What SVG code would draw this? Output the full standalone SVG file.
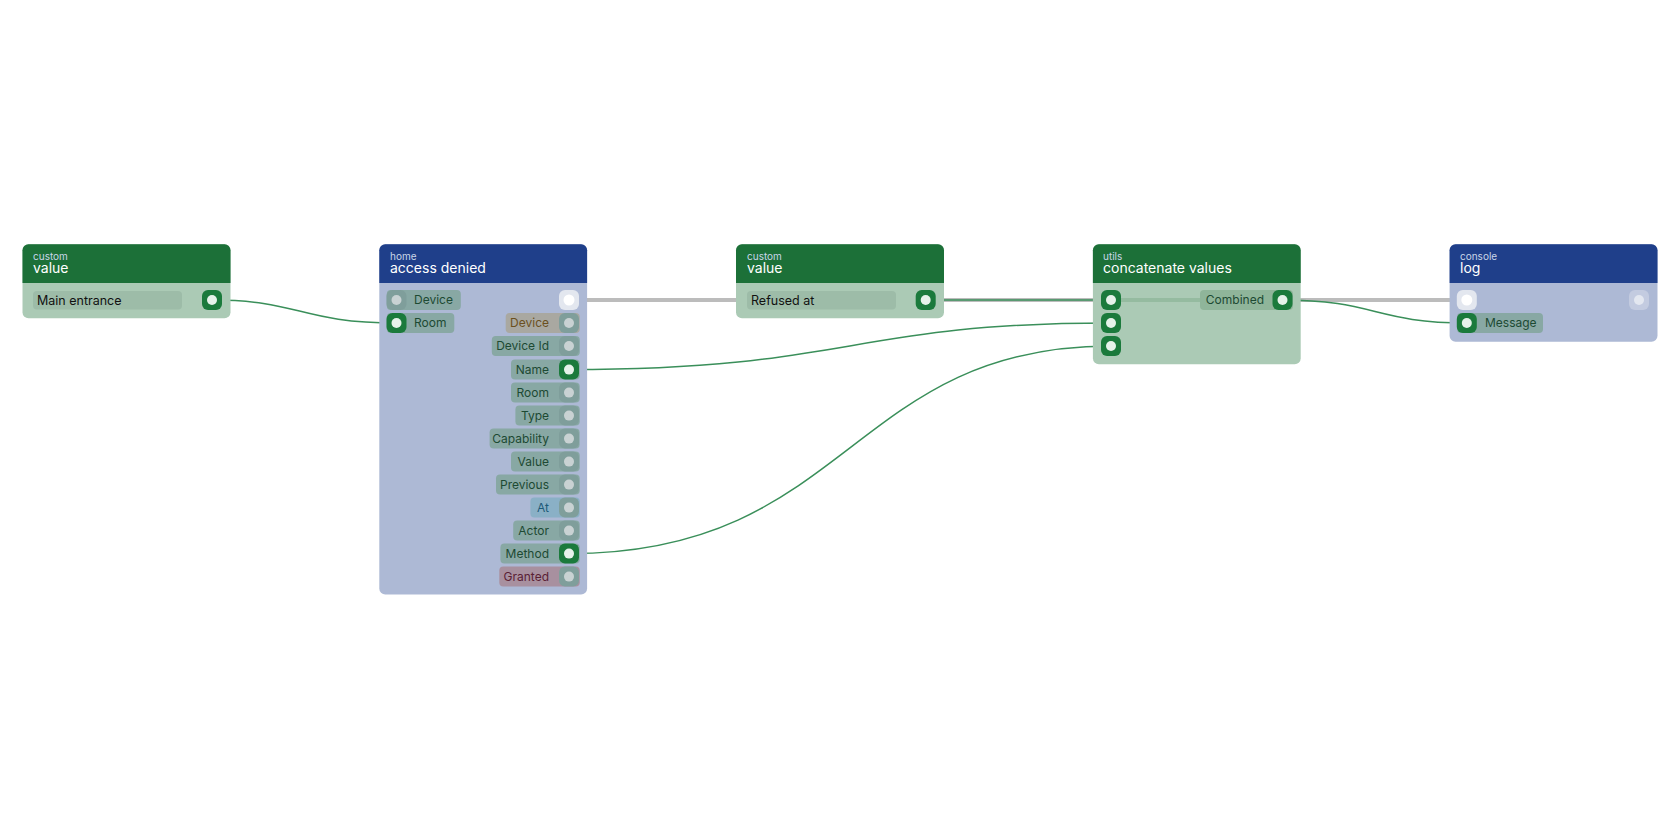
<svg xmlns="http://www.w3.org/2000/svg" width="1680" height="840" viewBox="0 0 1680 840">
<style>
text{font-family:Inter,"Noto Sans","Liberation Sans",sans-serif}
.cat{font-size:10px;fill:#c9d6e8}
.ttl{font-size:14px;fill:#fff}
.hg{fill:#1c7038}.bg{fill:#abcab5}
.hb{fill:#1f3f8a}.bb{fill:#adb9d5}
.pill{fill:#88a8a4}
.lbl{font-size:12px;fill:#1d4a33}
.fld{fill:#9dbca8}
.ftx{font-size:12.5px;fill:#111}
.exec{stroke:#bcbcbc;stroke-width:4;fill:none}
.e{stroke:#3a8f5a;stroke-width:1.5;fill:none}
</style>
<defs>
<g id="pon"><rect x="-10" y="-10" width="20" height="20" rx="6" fill="#1b7a3c"/><circle r="5" fill="#e6f2ea"/></g>
<g id="poff"><rect x="-10" y="-10" width="20" height="20" rx="6" fill="#7f9e9b"/><circle r="5" fill="#c9d2d3"/></g>
<g id="pex"><rect x="-10" y="-10" width="20" height="20" rx="6" fill="#e3e7ef"/><circle r="5.5" fill="#fff"/></g>
</defs>
<g id="connectors">
<path class="exec" d="M569 300H1466"/>
<path class="e" d="M212 300C300 300 300 323 396.5 323"/>
<path class="e" d="M925.7 300H1111"/>
<path class="e" d="M569 369.6C850 369.6 850 323 1111 323"/>
<path class="e" d="M569 553.6C850 553.6 850 346 1111 346"/>
<path class="e" d="M1282.5 300C1375 300 1375 323 1466.8 323"/>
</g>
<g id="n1">
<rect x="22.5" y="244.3" width="208" height="74" rx="6" class="bg"/>
<path d="M22.5 283V250.3a6 6 0 0 1 6-6H224.5a6 6 0 0 1 6 6V283Z" class="hg"/>
<text x="33" y="260" class="cat">custom</text><text x="33" y="273" class="ttl">value</text>
<rect x="33" y="291" width="149" height="18.6" rx="4" class="fld"/><text x="37" y="304.5" class="ftx">Main entrance</text>
<use href="#pon" x="212" y="300"/>
</g>
<g id="n2">
<rect x="379.3" y="244.3" width="207.8" height="350.3" rx="6" class="bb"/>
<path d="M379.3 283V250.3a6 6 0 0 1 6-6H581.1a6 6 0 0 1 6 6V283Z" class="hb"/>
<text x="390" y="260" class="cat">home</text><text x="390" y="273" class="ttl">access denied</text>
<rect x="386.8" y="290" width="74" height="20" rx="4" class="pill"/><use href="#poff" x="396.5" y="300"/><text x="414" y="304.3" class="lbl">Device</text>
<rect x="386.8" y="313" width="67.5" height="20" rx="4" class="pill"/><use href="#pon" x="396.5" y="323"/><text x="414" y="327.3" class="lbl">Room</text>
<use href="#pex" x="569" y="300"/>
<rect x="505.7" y="313" width="74" height="20" rx="4" fill="#a9a8a1"/><use href="#poff" x="569" y="323"/><text x="549" y="327.3" class="lbl" text-anchor="end" style="fill:#6b5020">Device</text>
<rect x="491.8" y="336" width="88" height="20" rx="4" class="pill"/><use href="#poff" x="569" y="346"/><text x="549" y="350.3" class="lbl" text-anchor="end">Device Id</text>
<rect x="511" y="359.6" width="68.7" height="20" rx="4" class="pill"/><use href="#pon" x="569" y="369.6"/><text x="549" y="373.9" class="lbl" text-anchor="end">Name</text>
<rect x="511" y="382.6" width="68.7" height="20" rx="4" class="pill"/><use href="#poff" x="569" y="392.6"/><text x="549" y="396.9" class="lbl" text-anchor="end">Room</text>
<rect x="515.4" y="405.6" width="64.3" height="20" rx="4" class="pill"/><use href="#poff" x="569" y="415.6"/><text x="549" y="419.9" class="lbl" text-anchor="end">Type</text>
<rect x="489.6" y="428.6" width="90" height="20" rx="4" class="pill"/><use href="#poff" x="569" y="438.6"/><text x="549" y="442.9" class="lbl" text-anchor="end">Capability</text>
<rect x="511" y="451.6" width="68.7" height="20" rx="4" class="pill"/><use href="#poff" x="569" y="461.6"/><text x="549" y="465.9" class="lbl" text-anchor="end">Value</text>
<rect x="496" y="474.6" width="83.7" height="20" rx="4" class="pill"/><use href="#poff" x="569" y="484.6"/><text x="549" y="488.9" class="lbl" text-anchor="end">Previous</text>
<rect x="530.4" y="497.6" width="49.3" height="20" rx="4" fill="#8ab0c6"/><use href="#poff" x="569" y="507.6"/><text x="549" y="511.9" class="lbl" text-anchor="end" style="fill:#1e5a78">At</text>
<rect x="513.2" y="520.6" width="66.5" height="20" rx="4" class="pill"/><use href="#poff" x="569" y="530.6"/><text x="549" y="534.9" class="lbl" text-anchor="end">Actor</text>
<rect x="500.4" y="543.6" width="79.3" height="20" rx="4" class="pill"/><use href="#pon" x="569" y="553.6"/><text x="549" y="557.9" class="lbl" text-anchor="end">Method</text>
<rect x="499.3" y="566.6" width="80.4" height="20" rx="4" fill="#a8909f"/><use href="#poff" x="569" y="576.6"/><text x="549" y="580.9" class="lbl" text-anchor="end" style="fill:#5a2035">Granted</text>
</g>
<g id="n3">
<rect x="736" y="244.3" width="208" height="74" rx="6" class="bg"/>
<path d="M736 283V250.3a6 6 0 0 1 6-6H938a6 6 0 0 1 6 6V283Z" class="hg"/>
<text x="747" y="260" class="cat">custom</text><text x="747" y="273" class="ttl">value</text>
<rect x="747" y="291" width="149" height="18.6" rx="4" class="fld"/><text x="751" y="304.5" class="ftx">Refused at</text>
<use href="#pon" x="925.7" y="300"/>
</g>
<g id="n4">
<rect x="1092.9" y="244.3" width="207.8" height="120" rx="6" class="bg"/>
<path d="M1092.9 283V250.3a6 6 0 0 1 6-6H1294.7a6 6 0 0 1 6 6V283Z" class="hg"/>
<text x="1103" y="260" class="cat">utils</text><text x="1103" y="273" class="ttl">concatenate values</text>
<path d="M1111 300H1200" stroke="#95bba0" stroke-width="4"/>
<rect x="1200" y="290" width="93" height="20" rx="4" fill="#8fb59a"/><text x="1264" y="304.3" class="lbl" text-anchor="end">Combined</text>
<use href="#pon" x="1282.5" y="300"/>
<use href="#pon" x="1111" y="300"/><use href="#pon" x="1111" y="323"/><use href="#pon" x="1111" y="346"/>
</g>
<g id="n5">
<rect x="1449.6" y="244.3" width="207.9" height="97.5" rx="6" class="bb"/>
<path d="M1449.6 283V250.3a6 6 0 0 1 6-6H1651.5a6 6 0 0 1 6 6V283Z" class="hb"/>
<text x="1460" y="260" class="cat">console</text><text x="1460" y="273" class="ttl">log</text>
<use href="#pex" x="1466.8" y="300"/>
<rect x="1629" y="290" width="20" height="20" rx="6" fill="#c3cbe0"/><circle cx="1639" cy="300" r="5" fill="#e3e7f0"/>
<rect x="1457" y="313" width="86" height="20" rx="4" class="pill"/><use href="#pon" x="1466.8" y="323"/><text x="1485" y="327.3" class="lbl">Message</text>
</g>
</svg>
